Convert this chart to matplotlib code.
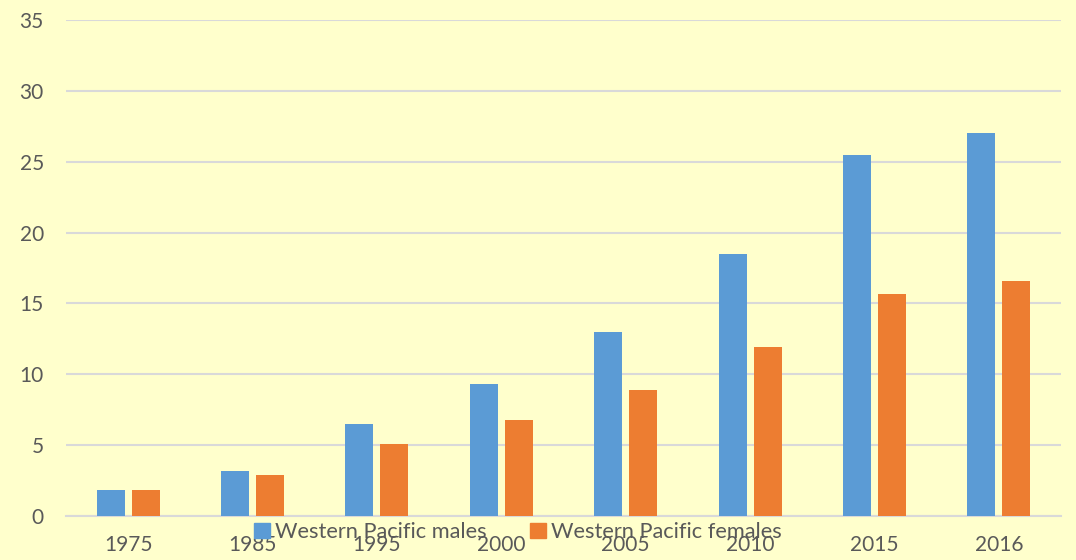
import matplotlib
matplotlib.use("Agg")
import matplotlib.pyplot as plt
import numpy as np
from matplotlib.patches import Patch

years = ["1975", "1985", "1995", "2000", "2005", "2010", "2015", "2016"]
males = [1.8, 3.2, 6.5, 9.3, 13.0, 18.5, 25.5, 27.0]
females = [1.8, 2.9, 5.1, 6.8, 8.9, 11.9, 15.7, 16.6]
series_names = ["Western Pacific males", "Western Pacific females"]

BG = "#FFFFCC"
BLUE = "#5B9BD5"
ORANGE = "#ED7D31"
TEXT = "#595959"
GRID = "#D9D9D9"

plt.rcParams["font.family"] = ["Lato", "DejaVu Sans"]

fig = plt.figure(figsize=(10.76, 5.6), dpi=100, facecolor=BG)
ax = fig.add_axes([66 / 1076, 1 - 516 / 560, (1061 - 66) / 1076, (516 - 20) / 560])
ax.set_facecolor(BG)

x = np.arange(len(years))
w = 0.225
gap = 0.056
ax.bar(x - (w + gap) / 2, males, w, color=BLUE, zorder=3)
ax.bar(x + (w + gap) / 2, females, w, color=ORANGE, zorder=3)

ax.set_xlim(-0.5, len(years) - 0.5)
ax.set_ylim(0, 35)
ax.set_yticks(np.arange(0, 36, 5))
ax.set_xticks(x)
ax.set_xticklabels(years)
ax.tick_params(axis="both", length=0, labelsize=15, colors=TEXT)
ax.tick_params(axis="x", pad=14)
ax.tick_params(axis="y", pad=16)
ax.yaxis.grid(True, color=GRID, linewidth=1.5, zorder=0)
for side in ["top", "right", "left"]:
    ax.spines[side].set_visible(False)
ax.spines["bottom"].set_color(GRID)
ax.spines["bottom"].set_linewidth(1.5)

handles = [Patch(color=BLUE), Patch(color=ORANGE)]
fig.legend(handles, series_names, loc="center", bbox_to_anchor=(518 / 1076, 1 - 532 / 560),
           ncol=2, frameon=False, fontsize=15.7, labelcolor=TEXT,
           handlelength=0.7, handleheight=0.7, handletextpad=0.25, columnspacing=2.0)

fig.savefig("out.png", dpi=100, facecolor=BG)
